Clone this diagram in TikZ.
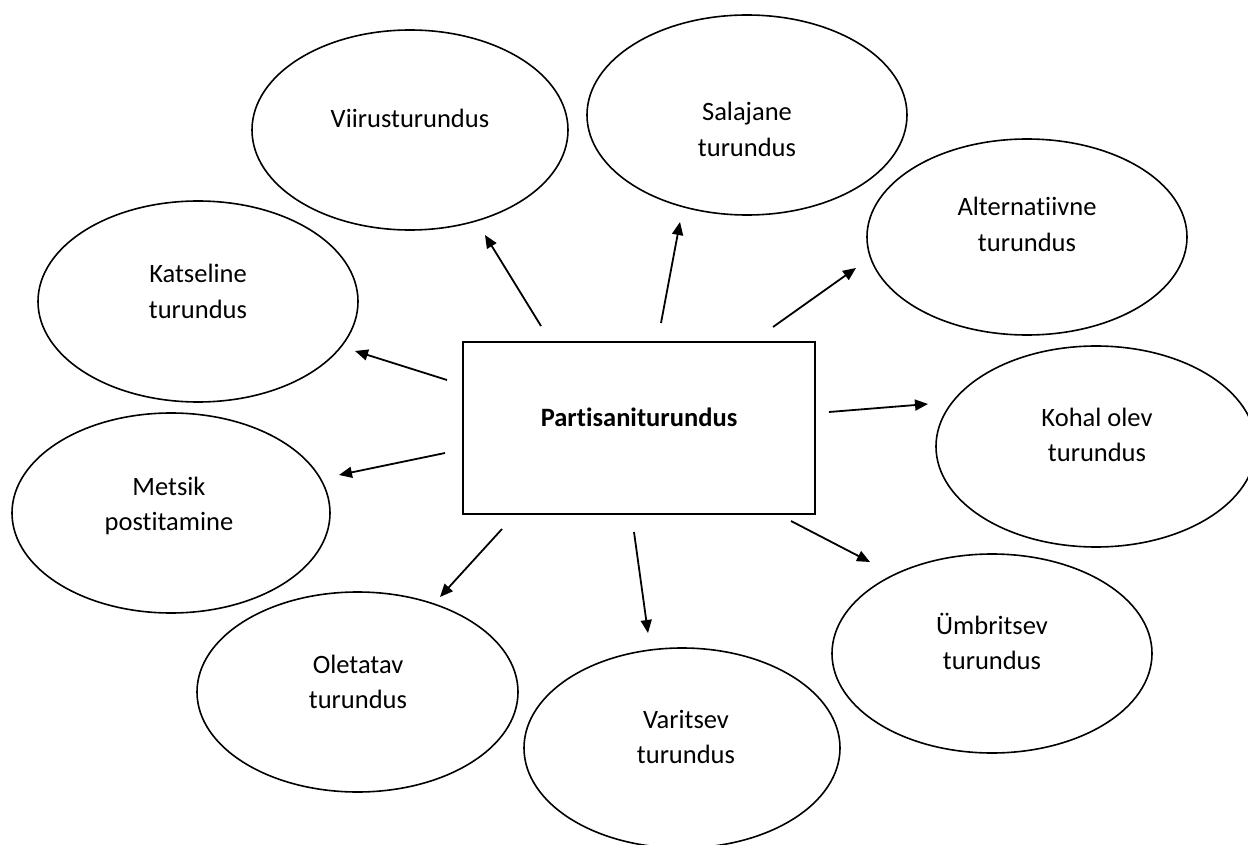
\documentclass[tikz,border=0pt]{standalone}
\usepackage{fontspec}
\setmainfont{Carlito}[Ligatures={NoCommon}]
\usetikzlibrary{shapes.geometric,arrows.meta}
\newcommand\twol[2]{\vtop{\halign{\hfil##\hfil\cr#1\cr#2\cr}}}
\begin{document}
\begin{tikzpicture}[x=1pt,y=-1pt,
  oval/.style={draw,ellipse,line width=1.6pt,inner sep=0pt},
  lbl/.style={inner sep=0pt,font=\fontsize{26.5}{35.5}\selectfont,anchor=base},
  arr/.style={line width=1.8pt,-{Triangle[length=13pt,width=11pt]}}]
\useasboundingbox (0,0) rectangle (1248,845);
\clip (0,0) rectangle (1248,845);
% ellipses
\node[oval,minimum width=316pt,minimum height=200pt] (vi) at (410,130) {};
\node[oval,minimum width=320pt,minimum height=200pt] (sa) at (747,115) {};
\node[oval,minimum width=320pt,minimum height=196pt] (al) at (1027,237) {};
\node[oval,minimum width=320pt,minimum height=201pt] (ka) at (198,301.5) {};
\node[oval,minimum width=318pt,minimum height=200pt] (me) at (171,513) {};
\node[oval,minimum width=321pt,minimum height=200pt] (ol) at (357.5,692) {};
\node[oval,minimum width=316pt,minimum height=200pt] (va) at (682,748) {};
\node[oval,minimum width=320pt,minimum height=199pt] (um) at (992,653.5) {};
\node[oval,minimum width=320pt,minimum height=201pt] (ko) at (1096,446.5) {};
% labels
\node[lbl] (vit) at (410,128) {Viirusturundus};
\node[lbl] (sat) at (747,121) {\twol{Salajane}{turundus}};
\node[lbl] (alt) at (1027,216) {\twol{Alternatiivne}{turundus}};
\node[lbl] (kat) at (198,283) {\twol{Katseline}{turundus}};
\node[lbl] (met) at (169,495) {\twol{Metsik}{postitamine}};
\node[lbl] (olt) at (358,673) {\twol{Oletatav}{turundus}};
\node[lbl] (vat) at (686,728) {\twol{Varitsev}{turundus}};
\node[lbl] (umt) at (992,634) {\twol{Ümbritsev}{turundus}};
\node[lbl] (kot) at (1097,426) {\twol{Kohal olev}{turundus}};
% central box
\node[draw,line width=2pt,minimum width=352pt,minimum height=172pt,inner sep=0pt,
  font=\bfseries\fontsize{26.5}{32}\selectfont,text height=18pt,text depth=22pt] (pt) at (639,428) {Partisaniturundus};
% arrow ends
\coordinate (vis) at (541,326); \coordinate (vie) at (485,235);
\coordinate (sas) at (661,323); \coordinate (sae) at (680,222);
\coordinate (als) at (773,327); \coordinate (ale) at (856,268);
\coordinate (kas) at (447,380); \coordinate (kae) at (355,351);
\coordinate (mes) at (445,453); \coordinate (mee) at (339,475);
\coordinate (ols) at (502,529); \coordinate (ole) at (440,597);
\coordinate (vas) at (634,532); \coordinate (vae) at (648,633);
\coordinate (ums) at (791,521); \coordinate (ume) at (870,562);
\coordinate (kos) at (829,412); \coordinate (koe) at (928,404);
\draw[arr] (vis) -- (vie);
\draw[arr] (sas) -- (sae);
\draw[arr] (als) -- (ale);
\draw[arr] (kas) -- (kae);
\draw[arr] (mes) -- (mee);
\draw[arr] (ols) -- (ole);
\draw[arr] (vas) -- (vae);
\draw[arr] (ums) -- (ume);
\draw[arr] (kos) -- (koe);
\end{tikzpicture}
\end{document}
